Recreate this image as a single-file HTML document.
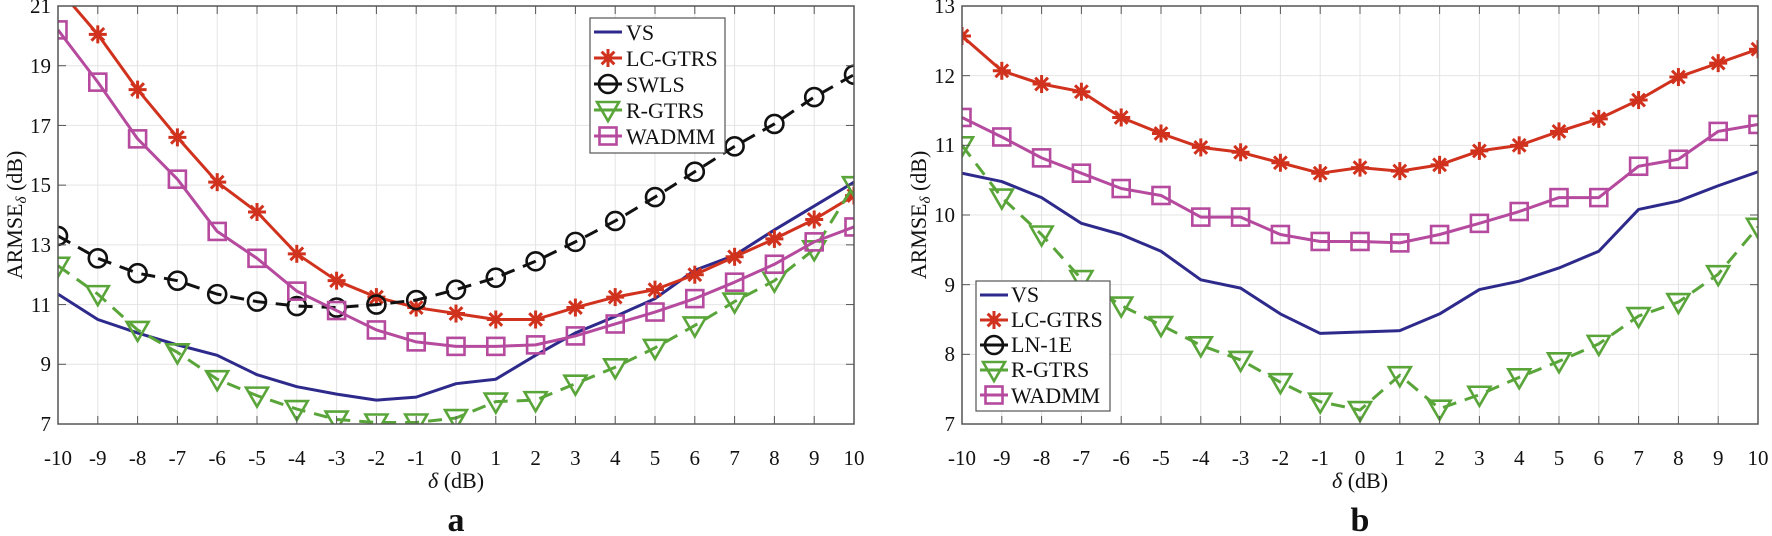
<!DOCTYPE html>
<html><head><meta charset="utf-8"><style>
html,body{margin:0;padding:0;background:#fff;width:1772px;height:536px;overflow:hidden}
svg, svg text, svg tspan{font-family:'Liberation Serif','Times New Roman','DejaVu Serif',serif !important}
</style></head><body>
<svg id="s" width="1772" height="536" xmlns="http://www.w3.org/2000/svg" style="font-family:'Liberation Serif','DejaVu Serif',serif" fill="#111">
<g id="plots"></g>
<g font-size="21" text-anchor="middle">
<text x="58" y="465">-10</text><text x="97.8" y="465">-9</text><text x="137.6" y="465">-8</text><text x="177.4" y="465">-7</text><text x="217.2" y="465">-6</text><text x="257" y="465">-5</text><text x="296.8" y="465">-4</text><text x="336.6" y="465">-3</text><text x="376.4" y="465">-2</text><text x="416.2" y="465">-1</text><text x="456" y="465">0</text><text x="495.8" y="465">1</text><text x="535.6" y="465">2</text><text x="575.4" y="465">3</text><text x="615.2" y="465">4</text><text x="655" y="465">5</text><text x="694.8" y="465">6</text><text x="734.6" y="465">7</text><text x="774.4" y="465">8</text><text x="814.2" y="465">9</text><text x="854" y="465">10</text>
<text x="962" y="465">-10</text><text x="1001.8" y="465">-9</text><text x="1041.6" y="465">-8</text><text x="1081.4" y="465">-7</text><text x="1121.2" y="465">-6</text><text x="1161" y="465">-5</text><text x="1200.8" y="465">-4</text><text x="1240.6" y="465">-3</text><text x="1280.4" y="465">-2</text><text x="1320.2" y="465">-1</text><text x="1360" y="465">0</text><text x="1399.8" y="465">1</text><text x="1439.6" y="465">2</text><text x="1479.4" y="465">3</text><text x="1519.2" y="465">4</text><text x="1559" y="465">5</text><text x="1598.8" y="465">6</text><text x="1638.6" y="465">7</text><text x="1678.4" y="465">8</text><text x="1718.2" y="465">9</text><text x="1758" y="465">10</text>
</g>
<g font-size="21" text-anchor="end">
<text x="51" y="13">21</text><text x="51" y="73">19</text><text x="51" y="133">17</text><text x="51" y="192">15</text><text x="51" y="252">13</text><text x="51" y="312">11</text><text x="51" y="371">9</text><text x="51" y="431">7</text>
<text x="955" y="13">13</text><text x="955" y="83">12</text><text x="955" y="152">11</text><text x="955" y="222">10</text><text x="955" y="292">9</text><text x="955" y="361">8</text><text x="955" y="431">7</text>
</g>
<g font-size="22" text-anchor="middle">
<text x="456" y="488"><tspan font-style="italic">δ</tspan> (dB)</text>
<text x="1360" y="488"><tspan font-style="italic">δ</tspan> (dB)</text>
<text transform="translate(22,215) rotate(-90)">ARMSE<tspan font-size="15" dy="4" font-style="italic">δ</tspan><tspan dy="-4"> (dB)</tspan></text>
<text transform="translate(926,215) rotate(-90)">ARMSE<tspan font-size="15" dy="4" font-style="italic">δ</tspan><tspan dy="-4"> (dB)</tspan></text>
</g>
<g font-size="34" font-weight="bold" text-anchor="middle">
<text x="456" y="531">a</text><text x="1360" y="531">b</text>
</g>
<g id="leg"></g>
<g font-size="22">
<text x="626" y="40">VS</text><text x="626" y="66">LC-GTRS</text><text x="626" y="92">SWLS</text><text x="626" y="118">R-GTRS</text><text x="626" y="144">WADMM</text>
<text x="1011" y="302">VS</text><text x="1011" y="327">LC-GTRS</text><text x="1011" y="352">LN-1E</text><text x="1011" y="377">R-GTRS</text><text x="1011" y="403">WADMM</text>
</g>
</svg>
<script>
const NS="http://www.w3.org/2000/svg";
const P=document.getElementById('plots'), L=document.getElementById('leg');
function el(p,t,a){const e=document.createElementNS(NS,t);for(const k in a)e.setAttribute(k,a[k]);p.appendChild(e);return e;}
const C={vs:'#2e2a8c',lc:'#d0321e',sw:'#111',rg:'#5aa53a',wa:'#b54a9e'};
function marker(g,type,x,y,c){
 if(type==='star'){const r=9;for(let i=0;i<4;i++){const a=i*Math.PI/4;el(g,'line',{x1:x-r*Math.cos(a),y1:y-r*Math.sin(a),x2:x+r*Math.cos(a),y2:y+r*Math.sin(a),stroke:c,'stroke-width':3});}}
 else if(type==='circ')el(g,'circle',{cx:x,cy:y,r:9,fill:'none',stroke:c,'stroke-width':2.6});
 else if(type==='sq')el(g,'rect',{x:x-8.5,y:y-8.5,width:17,height:17,fill:'none',stroke:c,'stroke-width':2.6});
 else if(type==='tri')el(g,'polygon',{points:`${x-11},${y-8} ${x+11},${y-8} ${x},${y+11}`,fill:'none',stroke:c,'stroke-width':2.6});
}
function plot(x0,ymax,ymin,yticks,series){
 const x1=x0+796,yt=6,yb=424,g=el(P,'g',{});
 const X=d=>x0+(d+10)*39.8,Y=v=>yt+(ymax-v)*(yb-yt)/(ymax-ymin);
 for(let d=-10;d<=10;d++)el(g,'line',{x1:X(d),y1:yt,x2:X(d),y2:yb,stroke:'#e4e4e4','stroke-width':1});
 yticks.forEach(v=>el(g,'line',{x1:x0,y1:Y(v),x2:x1,y2:Y(v),stroke:'#e4e4e4','stroke-width':1}));
 const cp=el(P,'clipPath',{id:'c'+x0});el(cp,'rect',{x:x0,y:yt,width:796,height:yb-yt});
 const sg=el(P,'g',{'clip-path':`url(#c${x0})`});
 series.forEach(s=>{
  const pts=s.v.map((v,i)=>X(i-10)+','+Y(v)).join(' ');
  el(sg,'polyline',{points:pts,fill:'none',stroke:s.c,'stroke-width':3,'stroke-dasharray':s.dash||'none','stroke-linejoin':'round'});
  if(s.m)s.v.forEach((v,i)=>marker(sg,s.m,X(i-10),Y(v),s.c));
 });
 el(P,'rect',{x:x0,y:yt,width:796,height:yb-yt,fill:'none',stroke:'#555','stroke-width':1.5});
 for(let d=-10;d<=10;d++){el(P,'line',{x1:X(d),y1:yb,x2:X(d),y2:yb-8,stroke:'#555'});el(P,'line',{x1:X(d),y1:yt,x2:X(d),y2:yt+8,stroke:'#555'});}
 yticks.forEach(v=>{el(P,'line',{x1:x0,y1:Y(v),x2:x0+8,y2:Y(v),stroke:'#555'});el(P,'line',{x1:x1,y1:Y(v),x2:x1-8,y2:Y(v),stroke:'#555'});});
}
plot(58,21,7,[7,9,11,13,15,17,19,21],[
 {c:C.vs,v:[11.35,10.5,10.05,9.65,9.3,8.65,8.25,8.0,7.8,7.9,8.35,8.5,9.3,10.05,10.6,11.2,12.15,12.65,13.5,14.3,15.1]},
 {c:C.lc,m:'star',v:[21.6,20.05,18.2,16.6,15.1,14.1,12.7,11.8,11.25,10.9,10.7,10.5,10.5,10.9,11.25,11.5,12,12.6,13.2,13.85,14.65]},
 {c:C.sw,m:'circ',dash:'14 9',v:[13.3,12.55,12.05,11.8,11.35,11.1,10.95,10.9,11.0,11.15,11.5,11.9,12.45,13.1,13.8,14.6,15.45,16.3,17.05,17.95,18.7]},
 {c:C.rg,m:'tri',dash:'14 9',v:[12.3,11.35,10.15,9.4,8.5,7.95,7.5,7.15,7.05,7.05,7.2,7.75,7.8,8.35,8.9,9.55,10.3,11.1,11.8,12.85,15.0]},
 {c:C.wa,m:'sq',v:[20.2,18.45,16.55,15.2,13.45,12.55,11.45,10.8,10.15,9.75,9.6,9.6,9.65,9.95,10.35,10.75,11.2,11.75,12.35,13.1,13.6]}
]);
plot(962,13,7,[7,8,9,10,11,12,13],[
 {c:C.vs,v:[10.6,10.48,10.25,9.88,9.72,9.48,9.07,8.95,8.58,8.3,8.32,8.34,8.58,8.93,9.05,9.24,9.48,10.08,10.2,10.42,10.62]},
 {c:C.lc,m:'star',v:[12.57,12.07,11.88,11.77,11.4,11.17,10.97,10.9,10.75,10.6,10.68,10.63,10.72,10.92,11.0,11.2,11.38,11.65,11.98,12.18,12.38]},
 {c:C.rg,m:'tri',dash:'14 9',v:[11.0,10.25,9.72,9.08,8.7,8.42,8.13,7.92,7.6,7.32,7.2,7.7,7.22,7.42,7.67,7.9,8.15,8.55,8.75,9.15,9.83]},
 {c:C.wa,m:'sq',v:[11.4,11.12,10.82,10.6,10.38,10.28,9.97,9.97,9.72,9.62,9.62,9.6,9.72,9.88,10.05,10.25,10.25,10.7,10.8,11.2,11.3]}
]);
function legend(x,y,w,h,rows,dy){
 el(L,'rect',{x:x,y:y,width:w,height:h,fill:'#fff',stroke:'#555','stroke-width':1.2});
 rows.forEach((r,i)=>{const cy=y+14+i*dy;el(L,'line',{x1:x+4,y1:cy,x2:x+32,y2:cy,stroke:r[0],'stroke-width':3});if(r[1])marker(L,r[1],x+18,cy,r[0]);});
}
legend(590,18,135,135,[[C.vs],[C.lc,'star'],[C.sw,'circ'],[C.rg,'tri'],[C.wa,'sq']],26);
legend(976,281,134,130,[[C.vs],[C.lc,'star'],[C.sw,'circ'],[C.rg,'tri'],[C.wa,'sq']],25);
</script>
</body></html>
